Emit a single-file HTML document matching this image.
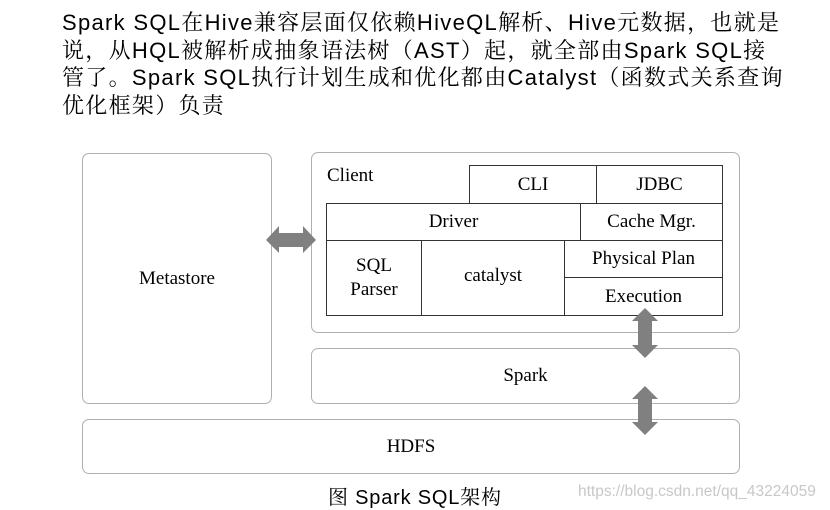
<!DOCTYPE html>
<html><head><meta charset="utf-8"><style>
body{margin:0;width:830px;height:510px;background:#fff;position:relative;overflow:hidden}
.t{position:absolute;left:62px;top:9px;width:760px;font-family:"Liberation Sans","Noto Serif CJK SC",sans-serif;font-size:22px;line-height:27.5px;letter-spacing:1.3px;color:#000;white-space:nowrap}
.r{position:absolute;border:1px solid #b0b0b0;border-radius:7px;box-sizing:border-box}
.c{position:absolute;border:1px solid #333;box-sizing:border-box;display:flex;align-items:center;justify-content:center;text-align:center;font-family:"Liberation Serif",serif;font-size:19px;line-height:24px}
.l{position:absolute;font-family:"Liberation Serif",serif;font-size:19px;display:flex;align-items:center;justify-content:center}
</style></head><body>
<div class="t">Spark SQL在Hive兼容层面仅依赖HiveQL解析、Hive元数据，也就是<br>说，从HQL被解析成抽象语法树（AST）起，就全部由Spark SQL接<br>管了。Spark SQL执行计划生成和优化都由Catalyst（函数式关系查询<br>优化框架）负责</div>
<div class="r" style="left:82px;top:153px;width:190px;height:251px"></div>
<div class="l" style="left:82px;top:153px;width:190px;height:251px">Metastore</div>
<div class="r" style="left:311px;top:152px;width:429px;height:181px"></div>
<div class="l" style="left:327px;top:165px">Client</div>
<div class="r" style="left:311px;top:348px;width:429px;height:56px"></div>
<div class="l" style="left:311px;top:348px;width:429px;height:56px">Spark</div>
<div class="r" style="left:82px;top:419px;width:658px;height:55px"></div>
<div class="l" style="left:82px;top:419px;width:658px;height:55px">HDFS</div>
<div class="c" style="left:469px;top:165px;width:128px;height:39px">CLI</div>
<div class="c" style="left:596px;top:165px;width:127px;height:39px">JDBC</div>
<div class="c" style="left:326px;top:203px;width:255px;height:38px">Driver</div>
<div class="c" style="left:580px;top:203px;width:143px;height:38px">Cache Mgr.</div>
<div class="c" style="left:326px;top:240px;width:96px;height:76px">SQL<br>Parser</div>
<div class="c" style="left:421px;top:240px;width:144px;height:76px;padding-bottom:4px">catalyst</div>
<div class="c" style="left:564px;top:240px;width:159px;height:38px">Physical Plan</div>
<div class="c" style="left:564px;top:277px;width:159px;height:39px">Execution</div>
<svg style="position:absolute;left:0;top:0" width="830" height="510">
<polygon fill="#808080" points="266,240 279,226 279,233 303,233 303,226 316,240 303,253 303,247 279,247 279,253"/>
<polygon fill="#808080" points="645,308 658,321 652,321 652,345 658,345 645,358 632,345 638,345 638,321 632,321"/>
<polygon fill="#808080" points="645,386 658,399 652,399 652,422 658,422 645,435 632,422 638,422 638,399 632,399"/>
</svg>
<div style="position:absolute;left:328px;top:481px;font-family:'Liberation Sans','Noto Serif CJK SC',sans-serif;font-size:20px;letter-spacing:0.8px;white-space:nowrap">图 Spark SQL架构</div>
<div style="position:absolute;left:578px;top:483px;font-family:'Liberation Sans',sans-serif;font-size:15.5px;color:#c8c8c8;white-space:nowrap">https://blog.csdn.net/qq_43224059</div>
</body></html>
